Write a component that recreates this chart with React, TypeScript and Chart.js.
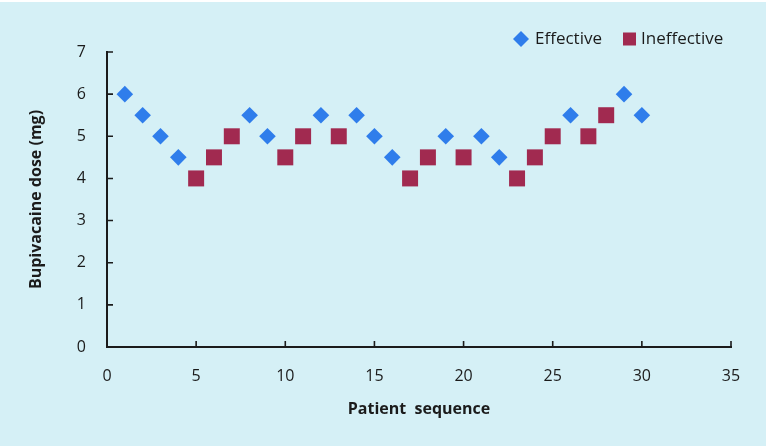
import { useEffect, useRef } from "react";
import { Chart, registerables } from "chart.js";

Chart.register(...registerables);

// ---- data ----
const patientSequence = [
  1, 2, 3, 4, 5, 6, 7, 8, 9, 10, 11, 12, 13, 14, 15,
  16, 17, 18, 19, 20, 21, 22, 23, 24, 25, 26, 27, 28, 29, 30,
];
const doseMg = [
  6, 5.5, 5, 4.5, 4, 4.5, 5, 5.5, 5, 4.5, 5, 5.5, 5, 5.5, 5,
  4.5, 4, 4.5, 5, 4.5, 5, 4.5, 4, 4.5, 5, 5.5, 5, 5.5, 6, 5.5,
];
const outcome = [
  "E", "E", "E", "E", "I", "I", "I", "E", "E", "I", "I", "E", "I", "E", "E",
  "E", "I", "I", "E", "I", "E", "E", "I", "I", "I", "E", "I", "I", "E", "E",
];
const seriesLabels = ["Effective", "Ineffective"];
const xTickValues = [0, 5, 10, 15, 20, 25, 30, 35];
const yTickValues = [0, 1, 2, 3, 4, 5, 6, 7];
const xTitle = "Patient  sequence";
const yTitle = "Bupivacaine dose (mg)";

const BLUE = "#2f7deb";
const MAROON = "#a12a50";
const BG = "#d5f0f6";
const INK = "#1b1b1b";
const FONT = "'Open Sans', 'DejaVu Sans', sans-serif";

function pointsFor(code: string) {
  const out: { x: number; y: number }[] = [];
  patientSequence.forEach((s, i) => {
    if (outcome[i] === code) out.push({ x: s, y: doseMg[i] });
  });
  return out;
}

const backgroundPlugin = {
  id: "bgFill",
  beforeDraw(chart: any) {
    const { ctx, width, height } = chart;
    ctx.save();
    ctx.fillStyle = "#ffffff";
    ctx.fillRect(0, 0, width, height);
    ctx.fillStyle = BG;
    ctx.fillRect(0, 2, width - 3, height - 2);
    ctx.restore();
  },
};

const inwardTicksPlugin = {
  id: "inwardTicks",
  afterDraw(chart: any) {
    const { ctx } = chart;
    const xs = chart.scales.x;
    const ys = chart.scales.y;
    ctx.save();
    ctx.strokeStyle = INK;
    ctx.lineWidth = 1.6;
    ctx.beginPath();
    xTickValues.forEach((v) => {
      if (v === 0) return;
      const px = xs.getPixelForValue(v);
      ctx.moveTo(px, ys.bottom);
      ctx.lineTo(px, ys.bottom - 6);
    });
    yTickValues.forEach((v) => {
      if (v === 0) return;
      const py = ys.getPixelForValue(v);
      ctx.moveTo(xs.left, py);
      ctx.lineTo(xs.left + 6, py);
    });
    ctx.stroke();
    ctx.restore();
  },
};

const legendPlugin = {
  id: "customLegend",
  afterDraw(chart: any) {
    const { ctx } = chart;
    const cy = 39;
    ctx.save();
    ctx.font = `17px ${FONT}`;
    ctx.textBaseline = "middle";
    // Effective
    const dx = 521;
    ctx.fillStyle = chart.data.datasets[0].backgroundColor;
    ctx.beginPath();
    ctx.moveTo(dx, cy - 8);
    ctx.lineTo(dx + 8, cy);
    ctx.lineTo(dx, cy + 8);
    ctx.lineTo(dx - 8, cy);
    ctx.closePath();
    ctx.fill();
    ctx.fillStyle = INK;
    ctx.fillText(chart.data.datasets[0].label, 535, cy);
    // Ineffective
    ctx.fillStyle = chart.data.datasets[1].backgroundColor;
    ctx.fillRect(623, cy - 6.5, 13, 13);
    ctx.fillStyle = INK;
    ctx.fillText(chart.data.datasets[1].label, 641, cy);
    ctx.restore();
  },
};

export default function App() {
  const ref = useRef<HTMLCanvasElement | null>(null);

  useEffect(() => {
    document.body.style.margin = "0";
    if (!ref.current) return;
    const chart = new Chart(ref.current, {
      type: "scatter",
      data: {
        datasets: [
          {
            label: seriesLabels[0],
            data: pointsFor("E"),
            pointStyle: "rectRot",
            pointRadius: 8.3,
            pointHoverRadius: 8.3,
            backgroundColor: BLUE,
            borderColor: BLUE,
            borderWidth: 0,
          },
          {
            label: seriesLabels[1],
            data: pointsFor("I"),
            pointStyle: "rect",
            pointRadius: 11.3,
            pointHoverRadius: 11.3,
            backgroundColor: MAROON,
            borderColor: MAROON,
            borderWidth: 0,
          },
        ],
      },
      options: {
        animation: false,
        responsive: false,
        devicePixelRatio: 1,
        layout: { padding: { top: 52, right: 38, left: 0, bottom: 0 } },
        plugins: {
          legend: { display: false },
          tooltip: { enabled: false },
        },
        scales: {
          x: {
            type: "linear",
            min: 0,
            max: 35,
            afterBuildTicks: (s: any) => {
              s.ticks = xTickValues.map((v) => ({ value: v }));
            },
            afterFit: (s: any) => {
              s.height = 99;
            },
            grid: { display: false, drawTicks: false },
            border: { display: true, color: INK, width: 2 },
            ticks: {
              padding: 20,
              color: INK,
              font: { family: FONT, size: 16 },
            },
            title: {
              display: true,
              text: xTitle,
              color: INK,
              font: { family: FONT, size: 16, weight: "bold" },
              padding: { top: 0, bottom: 27 },
            },
          },
          y: {
            type: "linear",
            min: 0,
            max: 7,
            afterBuildTicks: (s: any) => {
              s.ticks = yTickValues.map((v) => ({ value: v }));
            },
            afterFit: (s: any) => {
              s.width = 107;
            },
            grid: { display: false, drawTicks: false },
            border: { display: true, color: INK, width: 2 },
            ticks: {
              padding: 21,
              color: INK,
              font: { family: FONT, size: 16 },
            },
            title: {
              display: true,
              text: yTitle,
              color: INK,
              font: { family: FONT, size: 16, weight: "bold" },
              padding: { top: 27, bottom: 0 },
            },
          },
        },
      },
      plugins: [backgroundPlugin, inwardTicksPlugin, legendPlugin],
    });
    return () => chart.destroy();
  }, []);

  return (
    <div style={{ position: "absolute", left: 0, top: 0, width: 769, height: 446 }}>
      <canvas ref={ref} width={769} height={446} style={{ display: "block" }} />
    </div>
  );
}
